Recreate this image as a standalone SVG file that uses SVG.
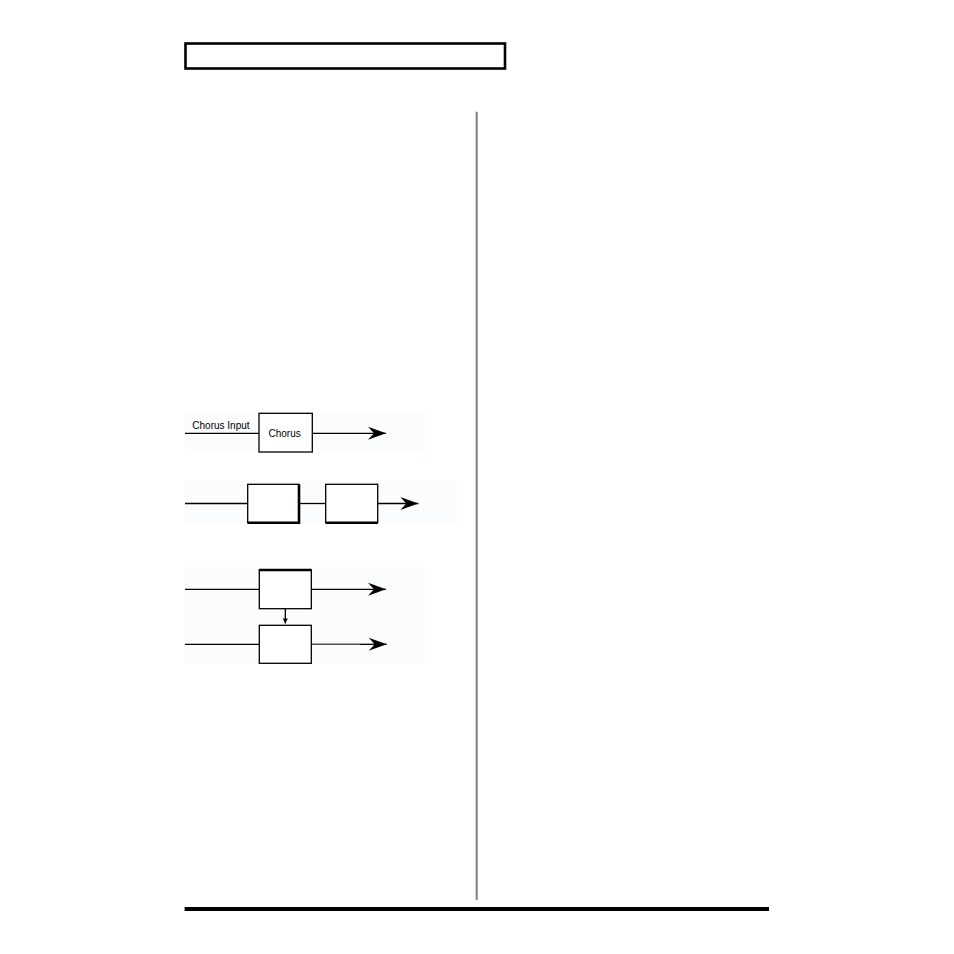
<svg xmlns="http://www.w3.org/2000/svg" width="954" height="954" viewBox="0 0 954 954">
<style>
.panel{fill:#fafcfd;stroke:none}
.box{fill:#ffffff;stroke:#000;stroke-width:1.3}
.ln{fill:none;stroke:#000;stroke-width:1.3}
.thick{fill:none;stroke:#000;stroke-width:2.6}
.lbl{font-family:"Liberation Sans",Arial,sans-serif;font-size:10px;fill:#000}
</style>
<defs>
<marker id="dart" markerUnits="userSpaceOnUse" markerWidth="19" markerHeight="14" refX="18" refY="6.5" orient="auto" overflow="visible">
<path d="M0,0 L18,6.5 L0,13 L6,6.5 Z" fill="#000"/>
</marker>
<marker id="small" markerUnits="userSpaceOnUse" markerWidth="6" markerHeight="6" refX="5" refY="2.5" orient="auto" overflow="visible">
<path d="M0,0 L5,2.5 L0,5 Z" fill="#000"/>
</marker>
</defs>
<rect width="954" height="954" fill="#ffffff"/>
<g id="header">
<rect x="185.5" y="43.5" width="319.5" height="25" fill="none" stroke="#000" stroke-width="2.6"/>
</g>
<g id="divider">
<line x1="476.7" y1="111.7" x2="476.7" y2="900" stroke="#808080" stroke-width="2"/>
</g>
<g id="footer">
<line x1="184.6" y1="909" x2="769" y2="909" stroke="#000" stroke-width="4.2"/>
</g>
<g id="panels">
<rect class="panel" x="185" y="412" width="240" height="42"/>
<rect class="panel" x="185" y="481" width="272" height="44"/>
<rect class="panel" x="185" y="567" width="240" height="97"/>
</g>
<g id="connectors">
<line class="ln" x1="185" y1="433.3" x2="259" y2="433.3"/>
<line class="ln" x1="312.3" y1="433.3" x2="386" y2="433.3" marker-end="url(#dart)"/>
<line class="ln" x1="185" y1="503.5" x2="247.7" y2="503.5"/>
<line class="ln" x1="299" y1="503.5" x2="325.7" y2="503.5"/>
<line class="ln" x1="377.7" y1="503.5" x2="418.3" y2="503.5" marker-end="url(#dart)"/>
<line class="ln" x1="185" y1="589.3" x2="259.3" y2="589.3"/>
<line class="ln" x1="311.3" y1="589.3" x2="386" y2="589.3" marker-end="url(#dart)"/>
<line class="ln" x1="285.3" y1="608.7" x2="285.3" y2="623.5" marker-end="url(#small)"/>
<line class="ln" x1="185" y1="644.3" x2="259.3" y2="644.3"/>
<line x1="311.3" y1="644.3" x2="360" y2="644.3" stroke="#505050" stroke-width="1.5"/>
<line class="ln" x1="360" y1="644.3" x2="386.7" y2="644.3" marker-end="url(#dart)"/>
</g>
<g id="chorus">
<rect class="box" x="259" y="413.3" width="53.3" height="38.7"/>
<text class="lbl" x="268.5" y="437">Chorus</text>
</g>
<g id="chorus-input-label">
<text class="lbl" x="192.3" y="428.5">Chorus Input</text>
</g>
<g id="series-box-1">
<rect class="box" x="247.7" y="484.3" width="51.3" height="38.4"/>
<polyline class="thick" points="299,484.3 299,522.7 247.7,522.7"/>
</g>
<g id="series-box-2">
<rect class="box" x="325.7" y="484.3" width="52" height="38.4"/>
<line class="thick" x1="325.7" y1="522.7" x2="377.7" y2="522.7"/>
</g>
<g id="parallel-box-top">
<rect class="box" x="259.3" y="569.7" width="52" height="39"/>
<line class="thick" x1="259.3" y1="570" x2="311.3" y2="570"/>
</g>
<g id="parallel-box-bottom">
<rect class="box" x="259.3" y="625.3" width="52" height="38"/>
</g>
</svg>
